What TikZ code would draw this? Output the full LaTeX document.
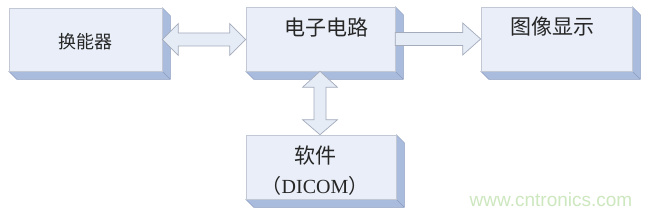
\documentclass[tikz,border=0pt]{standalone}
\usepackage{fontspec}
\setmainfont{Liberation Serif}
\newfontfamily\cjk{Noto Sans CJK SC}
\newfontfamily\wmfont{Liberation Sans}
\usetikzlibrary{calc,backgrounds}
\definecolor{front}{HTML}{E9EEF8}
\definecolor{frontline}{HTML}{C2C8D4}
\definecolor{side}{HTML}{AABCDE}
\definecolor{sideline}{HTML}{8C9DBF}
\definecolor{arrowfill}{HTML}{E6ECF6}
\definecolor{arrowline}{HTML}{A4ACBC}
\definecolor{wm}{HTML}{CDE7BF}
\begin{document}
\begin{tikzpicture}[x=1pt,y=-1pt,
  frontbox/.style={draw=frontline, fill=front, line width=0.6pt, inner sep=0pt},
  sideface/.style={fill=side, draw=sideline, line width=0.5pt, line join=round},
  bigarrow/.style={fill=arrowfill, draw=arrowline, line width=0.7pt, line join=miter},
  cjktext/.style={font=\cjk\fontsize{#1}{#1}\selectfont, text=black!85, inner sep=0pt}]
\useasboundingbox (0,0) rectangle (654,216);
% boxes
\node[frontbox, minimum width=153pt, minimum height=63pt] (b1) at (85.5,39.5) {};
\node[frontbox, minimum width=149pt, minimum height=64pt] (b2) at (320.5,39) {};
\node[frontbox, minimum width=151pt, minimum height=64pt] (b3) at (556.5,39) {};
\node[frontbox, minimum width=150pt, minimum height=64pt] (b4) at (321,167) {};
\begin{scope}[on background layer]
\fill[white] (0,0) rectangle (654,216);
\foreach \b in {b1,b2,b3,b4}{
  \draw[sideface] (\b.north east) -- ++(8,8) -- ($(\b.south east)+(8,8)$)
    -- ($(\b.south west)+(8,8)$) -- (\b.south west) -- (\b.south east) -- cycle;
  \draw[sideline, line width=0.5pt] (\b.south east) -- ++(8,8);
}
\end{scope}
% arrows
\draw[bigarrow] let \p1=(b1.east), \p2=(b2.west) in
  (\x1,\y1) -- (\x1+16pt,\y1+16pt) -- (\x1+16pt,\y1+6.5pt) -- (\x2-16pt,\y1+6.5pt)
  -- (\x2-16pt,\y1+16pt) -- (\x2,\y1) -- (\x2-16pt,\y1-16pt) -- (\x2-16pt,\y1-6.5pt)
  -- (\x1+16pt,\y1-6.5pt) -- (\x1+16pt,\y1-16pt) -- cycle;
\draw[bigarrow] let \p1=(b2.east), \p2=(b3.west) in
  (\x1,\y1+6.5pt) -- (\x2-18pt,\y1+6.5pt) -- (\x2-18pt,\y1+16pt) -- (\x2,\y1)
  -- (\x2-18pt,\y1-16pt) -- (\x2-18pt,\y1-6.5pt) -- (\x1,\y1-6.5pt) -- cycle;
\draw[bigarrow] let \p1=(b2.south), \p2=(b4.north) in
  (\x1-0.5pt,\y1) -- (\x1-18pt,\y1-16pt) -- (\x1-6.5pt,\y1-16pt) -- (\x1-6.5pt,\y2+15pt)
  -- (\x1-18pt,\y2+15pt) -- (\x1-0.5pt,\y2) -- (\x1+17pt,\y2+15pt) -- (\x1+5.5pt,\y2+15pt)
  -- (\x1+5.5pt,\y1-16pt) -- (\x1+17pt,\y1-16pt) -- cycle;
% texts
\node[cjktext=18] (t1) at (85,42) {换能器};
\node[cjktext=21] (t2) at (326,28) {电子电路};
\node[cjktext=21] (t3) at (552,27) {图像显示};
\node[cjktext=21] (t4) at (315,156) {软件};
\node[inner sep=0pt, text=black!85] (t5) at (315,186) {\cjk\fontsize{20}{20}\selectfont （\fontspec{Liberation Serif}DICOM\cjk ）};
\node[text=wm, font=\wmfont\fontsize{19}{19}\selectfont, inner sep=0pt] (wm) at (551,200) {www.cntronics.com};
\end{tikzpicture}
\end{document}
